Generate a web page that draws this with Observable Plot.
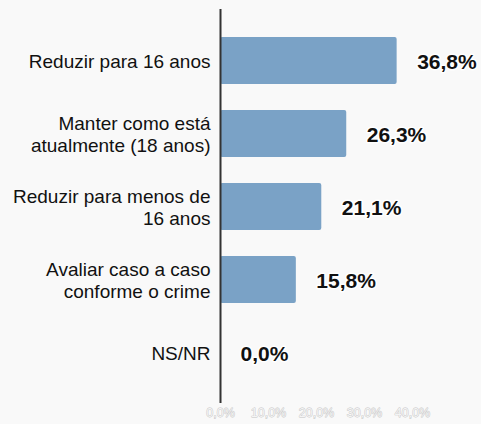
<!DOCTYPE html>
<html>
<head>
<meta charset="utf-8">
<script src="https://cdn.jsdelivr.net/npm/d3@7"></script>
<script src="https://cdn.jsdelivr.net/npm/@observablehq/plot@0.6"></script>
<style>
  html, body { margin: 0; padding: 0; background: #f9f9f9; }
  svg { display: block; }
</style>
</head>
<body>
<div id="chart"></div>
<script>
const categories = [
  "Reduzir para 16 anos",
  "Manter como está\natualmente (18 anos)",
  "Reduzir para menos de\n16 anos",
  "Avaliar caso a caso\nconforme o crime",
  "NS/NR"
];
const values = [36.8, 26.3, 21.1, 15.8, 0.0];
const xTicks = [0, 10, 20, 30, 40];

const data = categories.map((c, i) => ({category: c, value: values[i]}));
const fmt = d => d.toFixed(1).replace(".", ",") + "%";

const chart = Plot.plot({
  width: 481,
  height: 424,
  marginLeft: 220,
  marginRight: 69,
  marginTop: 9,
  marginBottom: 21,
  style: {background: "#f9f9f9", fontFamily: "'Liberation Sans', Arial, sans-serif"},
  x: {domain: [0, 40], label: null},
  y: {domain: categories, padding: 0.36, axis: null},
  marks: [
    Plot.barX(data, {x: "value", y: "category", fill: "#7aa2c6", rx: 2}),
    Plot.ruleX([0], {stroke: "#333", strokeWidth: 2}),
    Plot.axisX({
      ticks: xTicks, tickFormat: fmt, tickSize: 0, tickPadding: 5, label: null,
      fontSize: 12.5, fill: "#f4f4f4", textStroke: "#c4c4c4", textStrokeWidth: 0.8
    }),
    Plot.text(data, {
      x: 0, y: "category", text: "category", textAnchor: "end", dx: -10,
      fontSize: 19, lineHeight: 1.16, fill: "#111"
    }),
    Plot.text(data, {
      x: "value", y: "category", text: d => fmt(d.value), textAnchor: "start", dx: 20, dy: 1,
      fontSize: 21, fontWeight: "bold", fill: "#111", stroke: "white", strokeWidth: 3
    })
  ]
});
document.getElementById("chart").append(chart);
</script>
</body>
</html>
